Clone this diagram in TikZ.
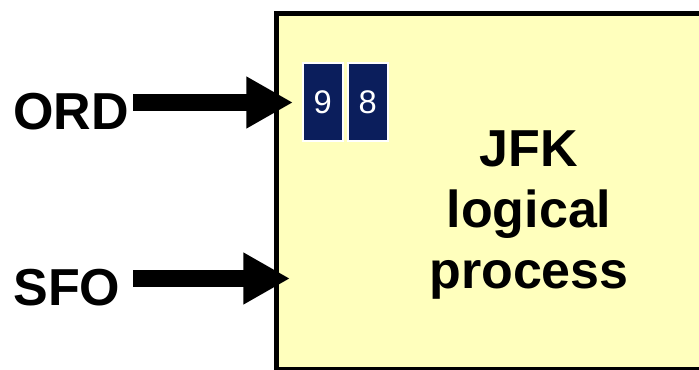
\documentclass[tikz,border=0pt]{standalone}
\usepackage{fontspec}
\setmainfont{Liberation Sans}
\usetikzlibrary{positioning,arrows.meta}

\definecolor{lpfill}{RGB}{255,255,189}
\definecolor{qnavy}{RGB}{11,30,92}

\tikzset{every picture/.style={line width=0.75pt}}
\tikzset{
  procbox/.style={draw=black, fill=lpfill, line width=3.75pt, inner sep=0pt, anchor=north west,
    minimum width=334.5pt, minimum height=267pt},
  airport/.style={font=\fontsize{39}{47}\selectfont\bfseries, inner sep=0pt, anchor=base west},
  feed/.style={line width=12.5pt, -{Triangle[length=35pt,width=36.5pt]}},
  qslot/.style={draw=white, fill=qnavy, line width=1.5pt, inner sep=0pt,
    minimum width=30pt, minimum height=58.5pt, text=white, font=\fontsize{24.5}{29}\selectfont},
}

\begin{document}
\begin{tikzpicture}[x=0.75pt,y=0.75pt,yscale=-1,xscale=1]
\useasboundingbox (0,0) rectangle (699,370);

%Shape: Rectangle [id:jfk]
\node [procbox] (jfk) at (274,11) {};
% Text Node
\node [font=\fontsize{39}{46}\selectfont\bfseries, align=center] (jfklabel) at (529,215) {JFK\\logical\\process};

% Text Node
\node [airport] (ord) at (13,130) {ORD};
% Text Node
\node [airport] (sfo) at (13,305) {SFO};

\coordinate (ordtail) at (133,102.5);
\coordinate (ordin) at (293,102.5);
\coordinate (sfotail) at (133,278.5);
\coordinate (sfoin) at (290,278.5);

%Straight Lines [id:ordfeed]
\draw [feed] (ordtail) -- (ordin);
%Straight Lines [id:sfofeed]
\draw [feed] (sfotail) -- (sfoin);

%Shape: Square [id:q9]
\node [qslot] (q9) at (322.7,102) {9};
%Shape: Square [id:q8]
\node [qslot, right=2.25pt of q9] (q8) {8};

\end{tikzpicture}
\end{document}
